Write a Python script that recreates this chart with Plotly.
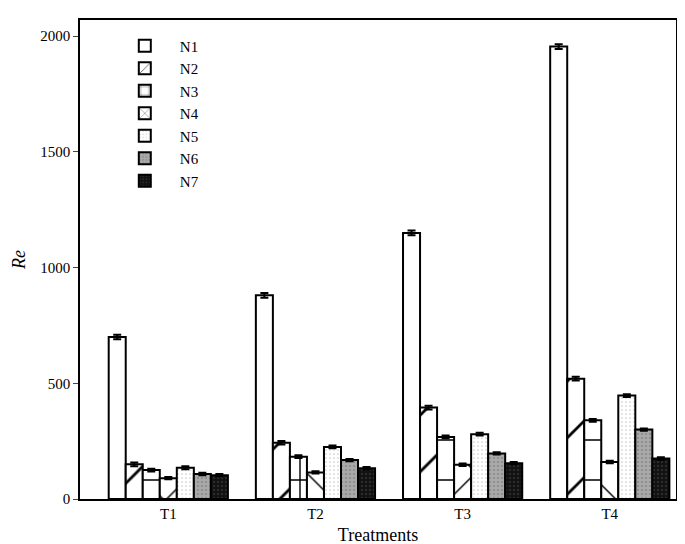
import plotly.graph_objects as go

treatments = ["T1", "T2", "T3", "T4"]
series_names = ["N1", "N2", "N3", "N4", "N5", "N6", "N7"]
N1 = [700, 880, 1150, 1955]
N2 = [150, 243, 395, 520]
N3 = [125, 183, 268, 340]
N4 = [90, 115, 148, 160]
N5 = [135, 225, 280, 447]
N6 = [108, 168, 197, 300]
N7 = [103, 133, 155, 175]
errors = [10, 8, 6, 5, 6, 5, 5]

values = [N1, N2, N3, N4, N5, N6, N7]
styles = [
    dict(color="white", pattern=dict(shape="")),
    dict(color="white", pattern=dict(shape="/", size=40, solidity=0.07, fgcolor="black", fgopacity=1)),
    dict(color="white", pattern=dict(shape="+", size=40, solidity=0.07, fgcolor="black", fgopacity=1)),
    dict(color="white", pattern=dict(shape="x", size=40, solidity=0.07, fgcolor="black", fgopacity=1)),
    dict(color="white", pattern=dict(shape=".", size=4, solidity=0.15, fgcolor="#999")),
    dict(color="#aaaaaa", pattern=dict(shape=".", size=4, solidity=0.3, fgcolor="#777")),
    dict(color="#111111", pattern=dict(shape=".", size=4, solidity=0.3, fgcolor="#444")),
]

fig = go.Figure()
for name, v, st, e in zip(series_names, values, styles, errors):
    fig.add_trace(go.Bar(
        x=treatments, y=v, name=name,
        marker=dict(color=st["color"], pattern=st["pattern"], line=dict(color="black", width=2)),
        error_y=dict(type="constant", value=e, color="black", thickness=2, width=4),
    ))

font = dict(family="Liberation Serif", size=15, color="black")
fig.update_layout(
    width=685, height=544, barmode="group", bargap=0.19, bargroupgap=0,
    plot_bgcolor="white", paper_bgcolor="white", font=font,
    margin=dict(l=67, r=17, t=10, b=52),
    showlegend=True,
    legend=dict(x=0.05, y=0.98, xanchor="left", yanchor="top", bgcolor="rgba(0,0,0,0)",
                font=dict(family="Liberation Serif", size=15), tracegroupgap=0, itemwidth=60),
    xaxis=dict(title=dict(text="Treatments", standoff=8), range=[-0.6, 3.45], showline=True, linecolor="black",
               linewidth=1.5, mirror=True, ticks="", showgrid=False),
    yaxis=dict(title=dict(text="<i>Re</i>", standoff=10), range=[0, 2070], tickvals=[0, 500, 1000, 1500, 2000],
               showline=True, linecolor="black", linewidth=1.5, mirror=True, ticks="outside",
               ticklen=5, showgrid=False, zeroline=False),
)
fig.write_html("out.html")
